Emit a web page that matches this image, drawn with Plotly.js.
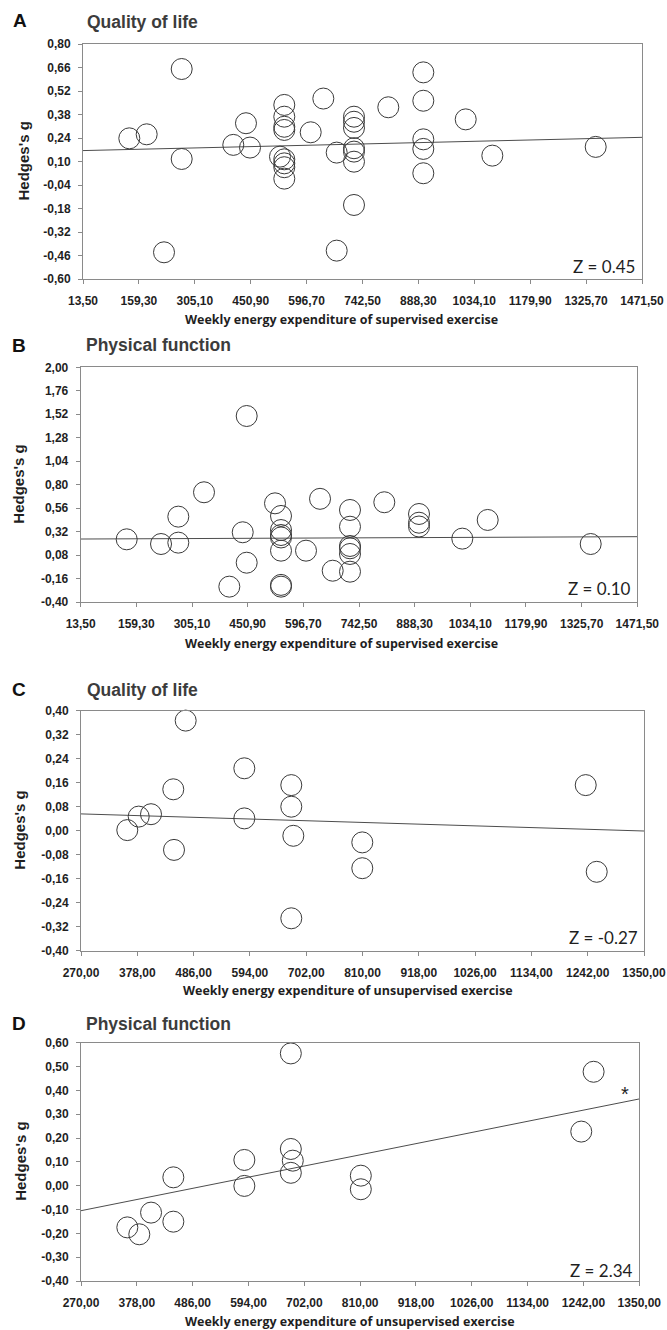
<!DOCTYPE html>
<html>
<head>
<meta charset="utf-8">
<script src="https://cdn.plot.ly/plotly-3.0.1.min.js"></script>
<style>
html,body{margin:0;padding:0;background:#fff;}
#chart{width:667px;height:1330px;}
</style>
</head>
<body>
<div id="chart"></div>
<script>
// ---------- Data ----------
// Panel A: Quality of life vs supervised exercise
var xA = [134.3, 179.6, 270.9, 270.9, 224.8, 405.5, 438.6, 449.1, 527.3,
          538.5, 538.5, 538.5, 538.5, 538.5, 538.5, 538.5, 538.5,
          607.4, 640.3, 675.2, 675.2,
          720.3, 720.3, 720.3, 720.3, 720.3, 720.3, 720.3,
          809.8, 901.1, 901.1, 901.1, 901.1, 901.1, 1011.7, 1081.1, 1350.7];
var yA = [0.238, 0.262, 0.651, 0.115, -0.441, 0.199, 0.328, 0.183, 0.129,
          0.437, 0.367, 0.307, 0.288, 0.113, 0.089, 0.066, -0.002,
          0.274, 0.475, 0.153, -0.431,
          0.367, 0.337, 0.300, 0.179, 0.159, 0.099, -0.159,
          0.423, 0.631, 0.462, 0.232, 0.175, 0.030, 0.351, 0.135, 0.187];
var regAx = [13.5, 1471.5];
var regAy = [0.165, 0.244];

// Panel B: Physical function vs supervised exercise
var xB = [134.0, 223.9, 269.2, 269.2, 336.5, 448.3, 437.9, 448.3, 402.8,
          522.5, 538.2, 538.2, 538.2, 538.2, 538.2, 538.2, 538.2,
          603.7, 640.4, 673.6,
          718.9, 718.9, 718.9, 718.9, 718.9, 718.9,
          808.8, 899.7, 899.7, 899.7, 1013.1, 1079.6, 1349.4];
var yB = [0.241, 0.193, 0.207, 0.473, 0.722, 1.502, 0.313, 0.002, -0.243,
          0.609, 0.480, 0.336, 0.285, 0.260, 0.125, -0.225, -0.243,
          0.125, 0.655, -0.080,
          0.541, 0.370, 0.173, 0.149, 0.091, -0.090,
          0.620, 0.500, 0.411, 0.372, 0.248, 0.439, 0.193];
var regBx = [13.5, 1471.5];
var regBy = [0.244, 0.268];

// Panel C: Quality of life vs unsupervised exercise
var xC = [358.8, 380.7, 404.3, 447.0, 448.4, 470.8, 583.3, 583.3,
          673.4, 673.4, 677.3, 673.4, 809.6, 809.6, 1238.2, 1259.3];
var yC = [0.002, 0.047, 0.055, 0.138, -0.064, 0.367, 0.208, 0.041,
          0.152, 0.080, -0.017, -0.292, -0.039, -0.125, 0.152, -0.137];
var regCx = [270, 1350];
var regCy = [0.056, -0.001];

// Panel D: Physical function vs unsupervised exercise
var xD = [359.6, 382.8, 405.5, 448.6, 448.6, 586.0, 586.0,
          675.9, 675.9, 679.7, 675.9, 811.3, 811.3, 1237.7, 1261.6];
var yD = [-0.175, -0.204, -0.113, 0.035, -0.151, 0.108, -0.001,
          0.555, 0.154, 0.105, 0.054, 0.042, -0.015, 0.227, 0.478];
var regDx = [270, 1350];
var regDy = [-0.105, 0.364];

// Tick values and labels
var xTicksSup = [13.5, 159.3, 305.1, 450.9, 596.7, 742.5, 888.3, 1034.1, 1179.9, 1325.7, 1471.5];
var xLabelsSup = ["13,50", "159,30", "305,10", "450,90", "596,70", "742,50", "888,30", "1034,10", "1179,90", "1325,70", "1471,50"];
var xTicksUns = [270, 378, 486, 594, 702, 810, 918, 1026, 1134, 1242, 1350];
var xLabelsUns = ["270,00", "378,00", "486,00", "594,00", "702,00", "810,00", "918,00", "1026,00", "1134,00", "1242,00", "1350,00"];
var yTicksA = [-0.60, -0.46, -0.32, -0.18, -0.04, 0.10, 0.24, 0.38, 0.52, 0.66, 0.80];
var yLabelsA = ["-0,60", "-0,46", "-0,32", "-0,18", "-0,04", "0,10", "0,24", "0,38", "0,52", "0,66", "0,80"];
var yTicksB = [-0.40, -0.16, 0.08, 0.32, 0.56, 0.80, 1.04, 1.28, 1.52, 1.76, 2.00];
var yLabelsB = ["-0,40", "-0,16", "0,08", "0,32", "0,56", "0,80", "1,04", "1,28", "1,52", "1,76", "2,00"];
var yTicksC = [-0.40, -0.32, -0.24, -0.16, -0.08, 0.00, 0.08, 0.16, 0.24, 0.32, 0.40];
var yLabelsC = ["-0,40", "-0,32", "-0,24", "-0,16", "-0,08", "0,00", "0,08", "0,16", "0,24", "0,32", "0,40"];
var yTicksD = [-0.40, -0.30, -0.20, -0.10, 0.00, 0.10, 0.20, 0.30, 0.40, 0.50, 0.60];
var yLabelsD = ["-0,40", "-0,30", "-0,20", "-0,10", "0,00", "0,10", "0,20", "0,30", "0,40", "0,50", "0,60"];

var panelLetters = ["A", "B", "C", "D"];
var panelTitles = ["Quality of life", "Physical function", "Quality of life", "Physical function"];
var xTitles = ["Weekly energy expenditure of supervised exercise",
               "Weekly energy expenditure of supervised exercise",
               "Weekly energy expenditure of unsupervised exercise",
               "Weekly energy expenditure of unsupervised exercise"];
var zLabels = ["Z = 0.45", "Z = 0.10", "Z = -0.27", "Z = 2.34"];

// ---------- Layout helpers ----------
var W = 667, H = 1330;
function px(x) { return x / W; }
function py(y) { return 1 - y / H; }

// pixel boxes [left, right, top, bottom]
var boxes = [
  [83, 642, 44, 279],
  [80.7, 637.3, 367.3, 602],
  [81, 644, 710.7, 950.7],
  [81, 639.3, 1042.7, 1281]
];
var xRanges = [[13.5, 1471.5], [13.5, 1471.5], [270, 1350], [270, 1350]];
var yRanges = [[-0.60, 0.80], [-0.40, 2.00], [-0.40, 0.40], [-0.40, 0.60]];
var xTV = [xTicksSup, xTicksSup, xTicksUns, xTicksUns];
var xTT = [xLabelsSup, xLabelsSup, xLabelsUns, xLabelsUns];
var yTV = [yTicksA, yTicksB, yTicksC, yTicksD];
var yTT = [yLabelsA, yLabelsB, yLabelsC, yLabelsD];
var ptsX = [xA, xB, xC, xD];
var ptsY = [yA, yB, yC, yD];
var regX = [regAx, regBx, regCx, regDx];
var regY = [regAy, regBy, regCy, regDy];

var tickFont = {family: "Liberation Sans, Arial, sans-serif", size: 12, color: "#1f1f1f", weight: 700};
var frameColor = "#8a8a8a";

var traces = [];
var layout = {
  width: W, height: H, autosize: false,
  margin: {l: 0, r: 0, t: 0, b: 0},
  paper_bgcolor: "#ffffff", plot_bgcolor: "#ffffff",
  showlegend: false,
  annotations: []
};

for (var i = 0; i < 4; i++) {
  var n = i === 0 ? "" : String(i + 1);
  var b = boxes[i];
  traces.push({
    x: regX[i], y: regY[i], type: "scatter", mode: "lines",
    xaxis: "x" + n, yaxis: "y" + n,
    line: {color: "#4d4d4d", width: 1}, hoverinfo: "skip"
  });
  traces.push({
    x: ptsX[i], y: ptsY[i], type: "scatter", mode: "markers",
    xaxis: "x" + n, yaxis: "y" + n, cliponaxis: false,
    marker: {symbol: "circle-open", size: 21, color: "#3a3a3a", line: {width: 1, color: "#3a3a3a"}}
  });
  layout["xaxis" + n] = {
    domain: [px(b[0]), px(b[1])], anchor: "y" + n,
    range: xRanges[i], tickmode: "array", tickvals: xTV[i], ticktext: xTT[i],
    showgrid: false, zeroline: false, showline: true, mirror: true,
    linecolor: frameColor, linewidth: 1,
    ticks: "outside", ticklen: 4, tickcolor: frameColor,
    tickfont: tickFont, ticklabelstandoff: 7, fixedrange: true
  };
  layout["yaxis" + n] = {
    domain: [py(b[3]), py(b[2])], anchor: "x" + n,
    range: yRanges[i], tickmode: "array", tickvals: yTV[i], ticktext: yTT[i],
    showgrid: false, zeroline: false, showline: true, mirror: true,
    linecolor: frameColor, linewidth: 1,
    ticks: "outside", ticklen: 4, tickcolor: frameColor,
    tickfont: tickFont, ticklabelstandoff: 5, fixedrange: true
  };
}

// Text positions (pixels)
var letterPos = [[20, 20], [19, 345], [19, 689], [19, 1023]];
var titlePos = [[85, 22], [84, 345], [85, 690], [84, 1024]];
var yTitlePos = [[23, 161.5], [19, 484.7], [20, 830.7], [21, 1161.8]];
var xTitlePos = [[341, 319], [341, 643], [348, 991], [350, 1321]];
var zPos = [[637, 266.7], [633, 588.3], [639.5, 937.3], [635, 1270]];

for (var k = 0; k < 4; k++) {
  layout.annotations.push({
    text: panelLetters[k], xref: "paper", yref: "paper",
    x: px(letterPos[k][0]), y: py(letterPos[k][1]), xanchor: "center", yanchor: "middle",
    showarrow: false, font: {family: "Liberation Sans, Arial, sans-serif", size: 19, color: "#111", weight: 700}
  });
  layout.annotations.push({
    text: panelTitles[k], xref: "paper", yref: "paper",
    x: px(titlePos[k][0]), y: py(titlePos[k][1]), xanchor: "left", yanchor: "middle",
    showarrow: false, font: {family: "Liberation Sans, Arial, sans-serif", size: 17.5, color: "#3c3c3c", weight: 700}
  });
  layout.annotations.push({
    text: "Hedges's g", xref: "paper", yref: "paper", textangle: -90,
    x: px(yTitlePos[k][0]), y: py(yTitlePos[k][1]), xanchor: "center", yanchor: "middle",
    showarrow: false, font: {family: "Liberation Sans, Arial, sans-serif", size: 15, color: "#1f1f1f", weight: 700}
  });
  layout.annotations.push({
    text: xTitles[k], xref: "paper", yref: "paper",
    x: px(xTitlePos[k][0]), y: py(xTitlePos[k][1]), xanchor: "center", yanchor: "middle",
    showarrow: false, font: {family: "Open Sans, sans-serif", size: 12.5, color: "#1f1f1f", weight: 700}
  });
  layout.annotations.push({
    text: zLabels[k], xref: "paper", yref: "paper",
    x: px(zPos[k][0]), y: py(zPos[k][1]), xanchor: "right", yanchor: "middle",
    showarrow: false, font: {family: "Lato, sans-serif", size: 17, color: "#1f1f1f"}
  });
}
// significance marker in panel D
layout.annotations.push({
  text: "*", xref: "x4", yref: "y4", x: 1322, y: 0.385,
  xanchor: "center", yanchor: "middle", showarrow: false,
  font: {family: "Liberation Sans, Arial, sans-serif", size: 20, color: "#1f1f1f"}
});

Plotly.newPlot("chart", traces, layout, {staticPlot: true, displayModeBar: false});
</script>
</body>
</html>
